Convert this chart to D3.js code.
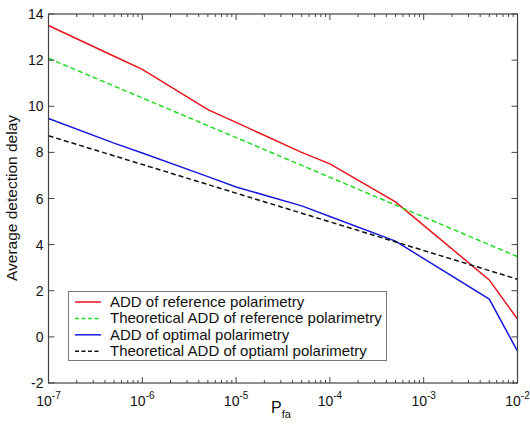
<!DOCTYPE html>
<html><head><meta charset="utf-8">
<script src="https://cdn.jsdelivr.net/npm/d3@7"></script>
<style>body{margin:0;background:#fff;}svg{display:block;font-family:"Liberation Sans",Arial,sans-serif;}</style>
</head><body>
<svg id="c" width="530" height="430"></svg>
<script>
const pfa = [1e-7, 5e-7, 1e-6, 5e-6, 1e-5, 5e-5, 1e-4, 5e-4, 5e-3, 1e-2];
const addRef = [13.5, 12.17, 11.6, 9.85, 9.3, 8.0, 7.5, 5.85, 2.47, 0.77];
const addOpt = [9.47, 8.4, 7.97, 6.95, 6.5, 5.68, 5.22, 4.15, 1.64, -0.62];
const theoX = [1e-7, 1e-2];
const theoRef = [12.08, 3.48];
const theoOpt = [8.72, 2.5];
const xTicks = [1e-7, 1e-6, 1e-5, 1e-4, 1e-3, 1e-2];
const xTickExp = ["-7", "-6", "-5", "-4", "-3", "-2"];
const yTicks = [-2, 0, 2, 4, 6, 8, 10, 12, 14];
const legendLabels = ["ADD of reference polarimetry", "Theoretical ADD of reference polarimetry", "ADD of optimal polarimetry", "Theoretical ADD of optiaml polarimetry"];

const svg = d3.select("#c");
const L = 48.5, R = 517.5, T = 14, B = 383;
const x = d3.scaleLog().domain([1e-7, 1e-2]).range([L, R]);
const y = d3.scaleLinear().domain([-2, 14]).range([B, T]);
const axisColor = "#444";

const minor = [];
for (let e = -7; e < -2; e++) for (let m = 2; m <= 9; m++) minor.push(m * Math.pow(10, e));

const g = svg.append("g");
const line = d3.line().x(d => x(d[0])).y(d => y(d[1]));
const series = [
  {xs: pfa, ys: addRef, color: "#e8141c", dash: null},
  {xs: theoX, ys: theoRef, color: "#22dd22", dash: "5,3"},
  {xs: pfa, ys: addOpt, color: "#1a1adc", dash: null},
  {xs: theoX, ys: theoOpt, color: "#111", dash: "5,3"}
];
svg.append("clipPath").attr("id","pc").append("rect").attr("x",L).attr("y",T).attr("width",R-L).attr("height",B-T);
series.forEach(s => {
  g.append("path").datum(s.xs.map((v,i)=>[v, s.ys[i]]))
    .attr("d", line).attr("fill","none").attr("stroke", s.color)
    .attr("stroke-width", 1.5).attr("stroke-dasharray", s.dash)
    .attr("clip-path","url(#pc)");
});

svg.append("rect").attr("x",L).attr("y",T).attr("width",R-L).attr("height",B-T)
  .attr("fill","none").attr("stroke",axisColor).attr("stroke-width",1.2);

const xt = svg.append("g");
xTicks.forEach(v => {
  xt.append("line").attr("x1",x(v)).attr("x2",x(v)).attr("y1",B).attr("y2",B-6).attr("stroke",axisColor);
  xt.append("line").attr("x1",x(v)).attr("x2",x(v)).attr("y1",T).attr("y2",T+6).attr("stroke",axisColor);
});
minor.forEach(v => {
  xt.append("line").attr("x1",x(v)).attr("x2",x(v)).attr("y1",B).attr("y2",B-3).attr("stroke",axisColor);
  xt.append("line").attr("x1",x(v)).attr("x2",x(v)).attr("y1",T).attr("y2",T+3).attr("stroke",axisColor);
});
xTicks.forEach((v,i) => {
  const t = xt.append("text").attr("x", x(v)).attr("y", B+23).attr("text-anchor","middle")
    .attr("font-size", 14).attr("fill","#111");
  t.append("tspan").text("10");
  t.append("tspan").attr("dy",-7).attr("font-size",10).text(xTickExp[i]);
});

const yt = svg.append("g");
yTicks.forEach(v => {
  yt.append("line").attr("x1",L).attr("x2",L+6).attr("y1",y(v)).attr("y2",y(v)).attr("stroke",axisColor);
  yt.append("line").attr("x1",R).attr("x2",R-6).attr("y1",y(v)).attr("y2",y(v)).attr("stroke",axisColor);
  yt.append("text").attr("x", L-5).attr("y", y(v)+5).attr("text-anchor","end")
    .attr("font-size",14).attr("fill","#111").text(v);
});

const xl = svg.append("text").attr("x", 281).attr("y", 413).attr("text-anchor","middle").attr("font-size",16).attr("fill","#111");
xl.append("tspan").text("P");
xl.append("tspan").attr("dy",5).attr("font-size",11).text("fa");
svg.append("text").attr("transform","translate(17,198) rotate(-90)").attr("text-anchor","middle")
  .attr("font-size",15.5).attr("fill","#111").text("Average detection delay");

const lg = svg.append("g");
lg.append("rect").attr("x",68.5).attr("y",291.5).attr("width",318).attr("height",69)
  .attr("fill","#fff").attr("stroke","#777").attr("stroke-width",1);
legendLabels.forEach((lab,i) => {
  const yy = 302 + i*16.4;
  lg.append("line").attr("x1",75).attr("x2",101).attr("y1",yy).attr("y2",yy)
    .attr("stroke",series[i].color).attr("stroke-width",1.5).attr("stroke-dasharray",series[i].dash ? "4,2.5" : null);
  lg.append("text").attr("x",110).attr("y",yy+5).attr("font-size",15).attr("fill","#111").text(lab);
});
</script>
</body></html>
